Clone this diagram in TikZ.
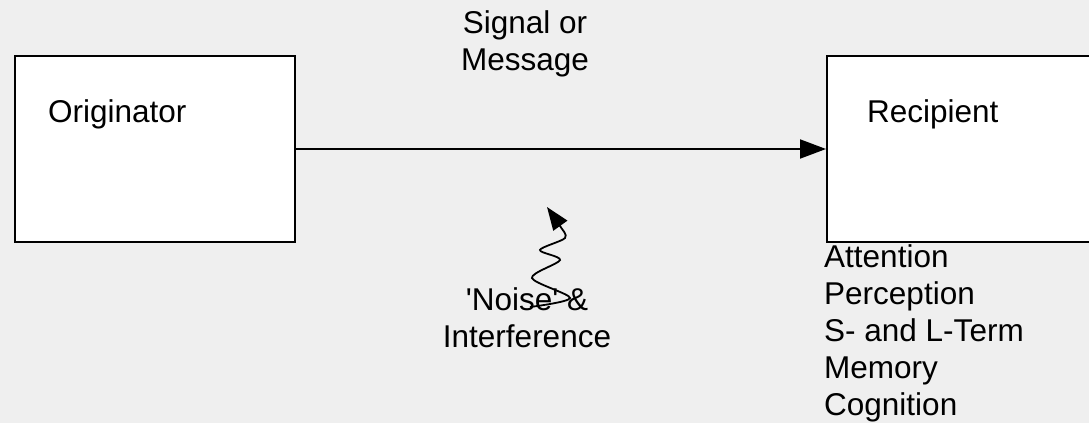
\documentclass[tikz,border=0pt]{standalone}
\usepackage{fontspec}
\setmainfont{Liberation Sans}
\usetikzlibrary{arrows.meta}
\definecolor{canvas}{RGB}{239,239,239}

\begin{document}
\begin{tikzpicture}[
  x=1pt,y=-1pt,
  >={Triangle[length=26pt,width=19pt]},
  every node/.style={font=\fontsize{31.5}{36.8}\selectfont,inner sep=0pt},
  party/.style={draw,line width=2pt,fill=white,minimum width=280pt,minimum height=186pt},
  caption/.style={align=center,anchor=base},
  signal/.style={line width=2pt,->},
  wiggle/.style={line width=1.8pt,->,>={Triangle[length=23pt,width=17pt]}}
]
% Canvas; the recipient box runs off its right edge.
\fill[canvas] (0,0) rectangle (1089,423);
\useasboundingbox (0,0) rectangle (1089,423);
\begin{scope}
\clip (0,0) rectangle (1089,423);
\node[party] (orig)  at (155,149) {};
\node[party] (recip) at (967,149) {};
\end{scope}
\node[anchor=base west] (origname)  at (48,122)  {Originator};
\node[anchor=base west] (recipname) at (867,122) {Recipient};

\draw[signal] (orig.east) -- (recip.west);
% multi-line nodes: base is the baseline of the last line
\node[caption] (message) at (525,70) {Signal or\\Message};

% Noise creeps up towards the channel.
\node[caption] (noise) at (527,347) {\textquotesingle Noise\textquotesingle{} \&\\Interference};
\coordinate (noisefoot) at (530,307);
\coordinate (noisetip)  at (547,207);
\draw[wiggle] plot[smooth,tension=0.5] coordinates
  {(530,307) (570,298) (532,278) (560,260) (540,250) (565,238) (560,226) (547,207)};

\node[align=left,anchor=base west] (faculties) at (824,415)
  {Attention\\Perception\\S- and L-Term\\Memory\\Cognition};
\end{tikzpicture}
\end{document}
